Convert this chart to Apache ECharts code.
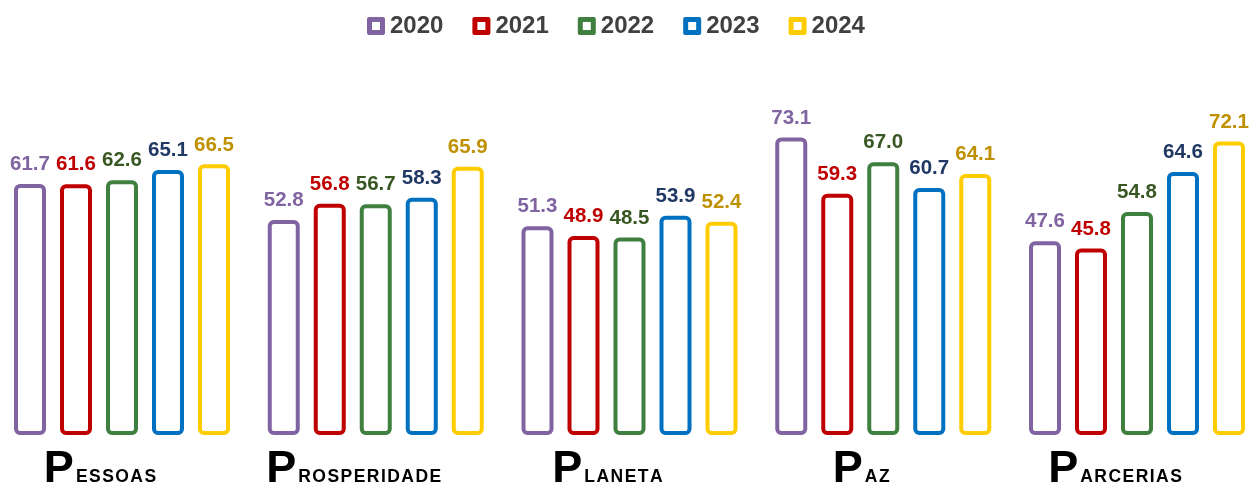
<!DOCTYPE html>
<html><head><meta charset="utf-8">
<script src="https://cdn.jsdelivr.net/npm/echarts@6/dist/echarts.min.js"></script>
<style>html,body{margin:0;padding:0;background:#fff}#c{width:1249px;height:487px}</style>
</head><body><div id="c"></div>
<script>
const categories = ['Pessoas', 'Prosperidade', 'Planeta', 'Paz', 'Parcerias'];
const years = ['2020', '2021', '2022', '2023', '2024'];
const v2020 = [61.7, 52.8, 51.3, 73.1, 47.6];
const v2021 = [61.6, 56.8, 48.9, 59.3, 45.8];
const v2022 = [62.6, 56.7, 48.5, 67.0, 54.8];
const v2023 = [65.1, 58.3, 53.9, 60.7, 64.6];
const v2024 = [66.5, 65.9, 52.4, 64.1, 72.1];
const values = [v2020, v2021, v2022, v2023, v2024];
const barColors = ['#8064A2', '#C00000', '#3F7F3F', '#0070C0', '#FFCC00'];
const labelColors = ['#8064A2', '#C00000', '#385723', '#203864', '#BF9000'];

const FONT = '"Liberation Sans", Arial, sans-serif';
const iconPath = 'path://M2,0 L16,0 Q18,0 18,2 L18,16 Q18,18 16,18 L2,18 Q0,18 0,16 L0,2 Q0,0 2,0 Z M5,5 L5,13 L13,13 L13,5 Z';

const chart = echarts.init(document.getElementById('c'), null, {renderer: 'canvas'});
chart.setOption({
  animation: false,
  backgroundColor: '#fff',
  textStyle: {fontFamily: FONT},
  legend: {
    left: 367, top: 14, padding: 0,
    itemWidth: 18, itemHeight: 18, itemGap: 29,
    icon: iconPath,
    textStyle: {fontSize: 24, fontWeight: 'bold', color: '#404040', fontFamily: FONT},
    data: years.map((y, i) => ({name: y, itemStyle: {color: barColors[i], borderWidth: 0}}))
  },
  grid: {left: -4.875, right: -14.875, top: 28, bottom: 52, containLabel: false, outerBoundsMode: 'none'},
  xAxis: {
    type: 'category', data: categories,
    axisLine: {show: false}, axisTick: {show: false},
    axisLabel: {
      margin: 12, interval: 0,
      formatter: function (v) {
        return '{p|' + v[0] + '}{s|' + v.slice(1).toUpperCase().split('').join('\u200A') + '}';
      },
      padding: [0, 44, 0, 0],
      rich: {
        p: {fontSize: 45, fontWeight: 'bold', color: '#000', fontFamily: FONT, lineHeight: 45},
        s: {fontSize: 17.5, fontWeight: 'bold', color: '#000', fontFamily: FONT, verticalAlign: 'bottom', padding: [0, 0, 6, 2], lineHeight: 18}
      }
    }
  },
  yAxis: {type: 'value', min: 0, max: 100, show: false, splitLine: {show: false}},
  series: years.map((y, i) => ({
    name: y, type: 'bar', data: values[i],
    barWidth: 32, barGap: '43.75%',
    itemStyle: {color: '#fff', borderColor: barColors[i], borderWidth: 4, borderRadius: 4},
    label: {
      show: true, position: 'top', distance: 9,
      color: labelColors[i], fontSize: 20.5, fontWeight: 'bold', fontFamily: FONT,
      formatter: p => p.value.toFixed(1)
    }
  }))
});
</script></body></html>
